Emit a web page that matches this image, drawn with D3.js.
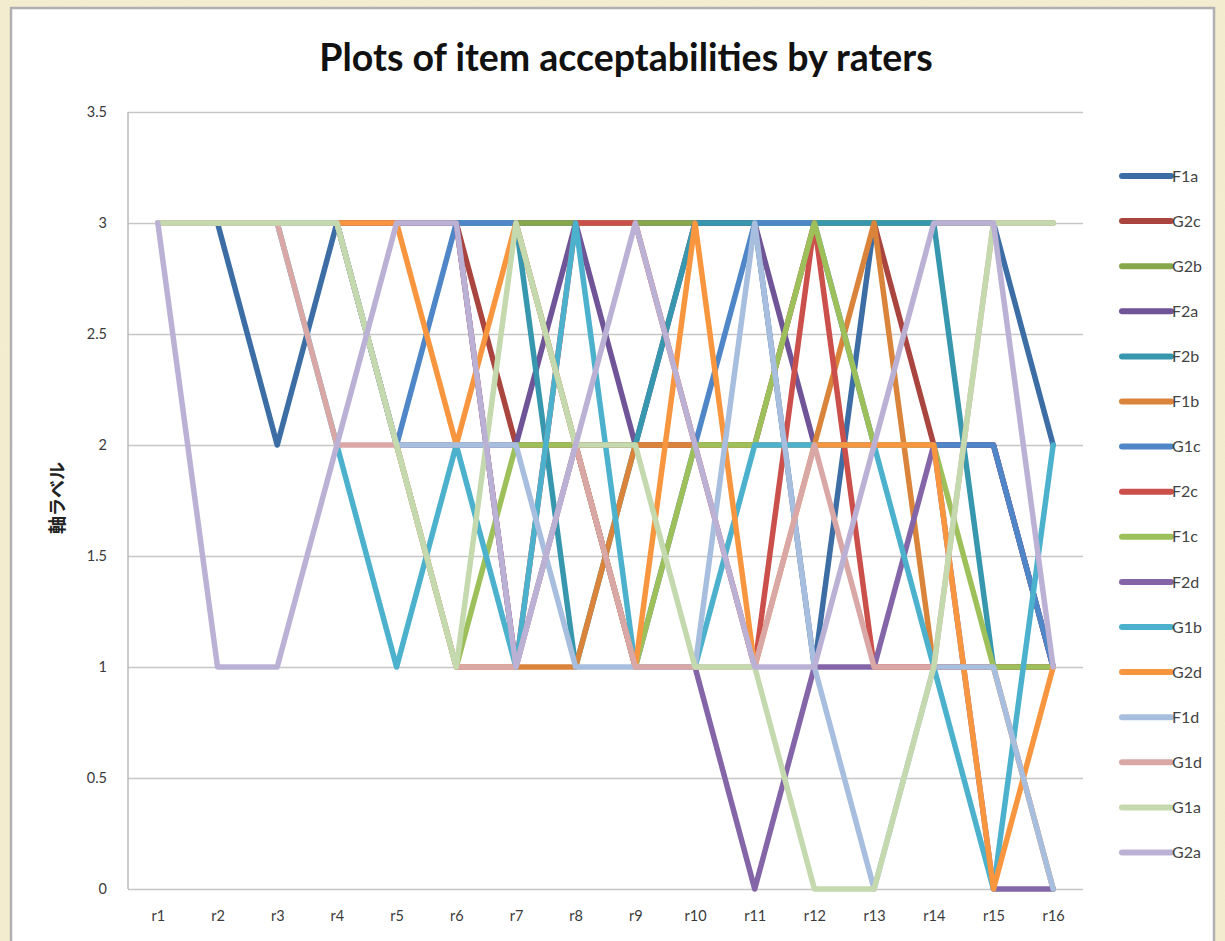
<!DOCTYPE html>
<html>
<head>
<meta charset="utf-8">
<script src="https://cdn.jsdelivr.net/npm/d3@7"></script>
<style>
  html, body { margin: 0; padding: 0; background: #f5ecd0; }
  svg { display: block; }
</style>
</head>
<body>
<svg id="chart" width="1225" height="941"></svg>
<script>
// Raters along the x axis
const raters = ["r1","r2","r3","r4","r5","r6","r7","r8","r9","r10","r11","r12","r13","r14","r15","r16"];

// Value axis ticks
const yTicks = [0, 0.5, 1, 1.5, 2, 2.5, 3, 3.5];

// Acceptability of each item, one value per rater (r1..r16)
const F1a = [3,3,2,3,3,3,3,3,3,3,3,1,3,3,3,2];
const G2c = [3,3,3,3,3,3,2,2,2,2,2,3,3,2,2,1];
const G2b = [3,3,3,3,3,3,3,3,3,3,3,3,3,3,3,3];
const F2a = [3,3,3,3,2,2,2,3,2,3,3,2,2,2,2,1];
const F2b = [3,3,3,3,3,3,3,1,2,3,3,3,3,3,1,1];
const F1b = [3,3,3,3,2,1,1,1,2,2,2,2,3,1,1,0];
const G1c = [3,3,3,3,2,3,3,2,1,2,3,3,2,2,2,1];
const F2c = [3,3,3,3,3,3,1,3,3,2,1,3,1,1,1,1];
const F1c = [3,3,3,3,2,1,2,2,1,2,2,3,2,2,1,1];
const F2d = [3,3,3,3,3,3,1,2,1,1,0,1,1,2,0,0];
const G1b = [3,3,3,2,1,2,1,3,1,1,2,2,2,1,0,2];
const G2d = [3,3,3,3,3,2,3,2,1,3,1,2,2,2,0,1];
const F1d = [3,3,3,3,2,2,2,1,1,1,3,1,0,1,1,0];
const G1d = [3,3,3,2,2,1,1,2,1,1,1,2,1,1,3,3];
const G1a = [3,3,3,3,2,1,3,2,2,1,1,0,0,1,3,3];
const G2a = [3,1,1,2,3,3,1,2,3,2,1,1,2,3,3,1];

// Series in drawing / legend order
const seriesNames = ["F1a","G2c","G2b","F2a","F2b","F1b","G1c","F2c","F1c","F2d","G1b","G2d","F1d","G1d","G1a","G2a"];
const seriesValues = [F1a,G2c,G2b,F2a,F2b,F1b,G1c,F2c,F1c,F2d,G1b,G2d,F1d,G1d,G1a,G2a];
const seriesColors = ["#3c6ea5","#a9443f","#88a64a","#6f5497","#3797ae","#d9843a","#4e86c7","#cb4f4b",
                      "#9dc05a","#8466a8","#4bb1cc","#f8963f","#a8bedf","#d9a7a6","#c5d9ae","#bbb1d5"];

const W = 1225, H = 941;
const plot = { left: 128, right: 1083, top: 112, bottom: 889 };
const baseFont = "Lato, 'Open Sans', sans-serif";

const svg = d3.select("#chart");

// Paper-like backdrop
const defs = svg.append("defs");
const paper = defs.append("filter").attr("id", "paper").attr("x", 0).attr("y", 0).attr("width", 1).attr("height", 1);
paper.append("feTurbulence").attr("type", "fractalNoise").attr("baseFrequency", 0.9).attr("numOctaves", 2).attr("seed", 3).attr("result", "noise");
paper.append("feColorMatrix").attr("in", "noise").attr("type", "matrix")
  .attr("values", "0 0 0 0 0.80  0 0 0 0 0.72  0 0 0 0 0.50  0 0 0 0.35 0");
svg.append("rect").attr("width", W).attr("height", H).attr("fill", "#f6eed2");
svg.append("rect").attr("width", W).attr("height", H).attr("filter", "url(#paper)").attr("opacity", 0.5);

// White chart panel
svg.append("rect")
  .attr("x", 11).attr("y", 8).attr("width", 1203).attr("height", 950)
  .attr("fill", "#ffffff").attr("stroke", "#b0b0b0").attr("stroke-width", 2.5);

// Scales
const x = d3.scalePoint().domain(raters).range([plot.left, plot.right]).padding(0.5);
const y = d3.scaleLinear().domain([0, 3.5]).range([plot.bottom, plot.top]);

// Horizontal gridlines and value labels
const yAxis = svg.append("g")
  .attr("transform", `translate(${plot.left},0)`)
  .call(d3.axisLeft(y).tickValues(yTicks).tickSize(-(plot.right - plot.left)).tickPadding(21).tickFormat(d => String(d)));
yAxis.select(".domain").remove();
yAxis.selectAll(".tick line").attr("stroke", "#c6c6c6").attr("stroke-width", 1.5);
yAxis.selectAll(".tick text").attr("font-family", baseFont).attr("font-size", 14.5).attr("fill", "#3a3a3a");

// Left axis line
svg.append("line")
  .attr("x1", plot.left).attr("x2", plot.left)
  .attr("y1", plot.top).attr("y2", plot.bottom)
  .attr("stroke", "#b8b8b8").attr("stroke-width", 1.5);

// Rater labels
const xAxis = svg.append("g")
  .attr("transform", `translate(0,${plot.bottom})`)
  .call(d3.axisBottom(x).tickSize(0).tickPadding(22));
xAxis.select(".domain").remove();
xAxis.selectAll(".tick text").attr("font-family", baseFont).attr("font-size", 14.5).attr("fill", "#3a3a3a");

// One polyline per item
const line = d3.line()
  .x((d, i) => x(raters[i]))
  .y(d => y(d));

svg.append("g").selectAll("path")
  .data(seriesValues)
  .join("path")
  .attr("d", line)
  .attr("fill", "none")
  .attr("stroke", (d, i) => seriesColors[i])
  .attr("stroke-width", 5.5)
  .attr("stroke-linejoin", "round")
  .attr("stroke-linecap", "round");

// Legend
const legend = svg.append("g").selectAll("g")
  .data(seriesNames)
  .join("g")
  .attr("transform", (d, i) => `translate(1122,${176 + i * 45.1})`);
legend.append("line")
  .attr("x1", 0).attr("x2", 49)
  .attr("stroke", (d, i) => seriesColors[i])
  .attr("stroke-width", 6)
  .attr("stroke-linecap", "round");
legend.append("text")
  .attr("x", 50).attr("dy", "0.35em")
  .attr("font-family", baseFont).attr("font-size", 16).attr("fill", "#444")
  .text(d => d);

// Value axis title
svg.append("text")
  .attr("transform", "translate(58,498) rotate(-90)")
  .attr("text-anchor", "middle")
  .attr("dy", "0.35em")
  .attr("font-family", "'Noto Sans CJK JP', sans-serif")
  .attr("font-weight", "bold")
  .attr("font-size", 18)
  .attr("fill", "#222")
  .text("軸ラベル");

// Title
svg.append("text")
  .attr("x", 626).attr("y", 71)
  .attr("text-anchor", "middle")
  .attr("font-family", baseFont)
  .attr("font-weight", "bold")
  .attr("font-size", 37.5)
  .attr("fill", "#111")
  .text("Plots of item acceptabilities by raters");
</script>
</body>
</html>
